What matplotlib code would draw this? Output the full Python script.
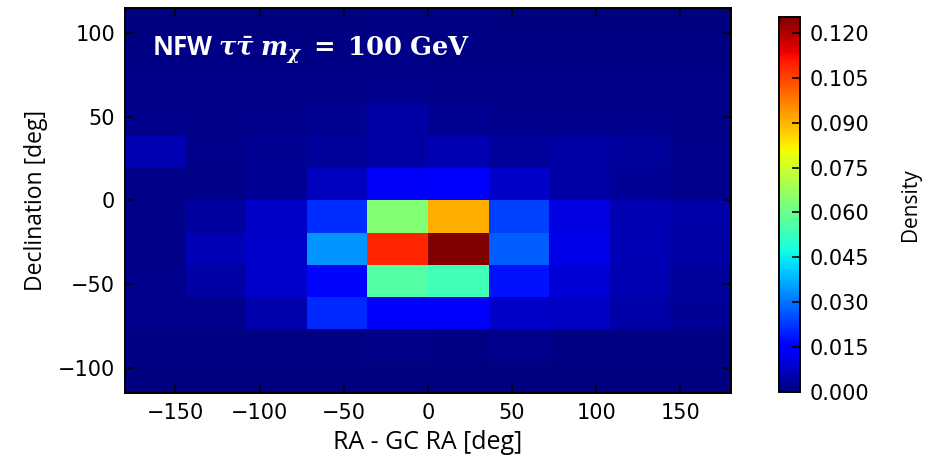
"""Sky density map of the NFW tau-tau signal around the Galactic Centre."""
import matplotlib

matplotlib.use("Agg")
import matplotlib.pyplot as plt
import numpy as np

# Bin edges of the 2D histogram (RA offset and declination, degrees).
RA_EDGES = np.linspace(-180, 180, 11)
DEC_EDGES = np.linspace(-115, 115, 13)

# Density per bin, one row per declination band, listed from the top band down.
DENSITY_ROWS = [
    [0.0004, 0.0004, 0.0004, 0.0004, 0.0005, 0.0005, 0.0004, 0.0004, 0.0004, 0.0004],
    [0.0006, 0.0006, 0.0007, 0.0008, 0.0010, 0.0009, 0.0008, 0.0007, 0.0006, 0.0006],
    [0.0010, 0.0010, 0.0011, 0.0012, 0.0015, 0.0013, 0.0012, 0.0011, 0.0010, 0.0010],
    [0.0015, 0.0014, 0.0016, 0.0020, 0.0042, 0.0022, 0.0018, 0.0016, 0.0015, 0.0013],
    [0.0055, 0.0016, 0.0020, 0.0030, 0.0042, 0.0055, 0.0030, 0.0042, 0.0030, 0.0018],
    [0.0010, 0.0012, 0.0028, 0.0069, 0.0135, 0.0140, 0.0083, 0.0042, 0.0025, 0.0018],
    [0.0014, 0.0035, 0.0083, 0.0215, 0.0640, 0.0910, 0.0235, 0.0110, 0.0055, 0.0045],
    [0.0014, 0.0060, 0.0088, 0.0340, 0.1090, 0.1253, 0.0270, 0.0115, 0.0060, 0.0041],
    [0.0018, 0.0041, 0.0088, 0.0165, 0.0565, 0.0538, 0.0180, 0.0096, 0.0055, 0.0033],
    [0.0018, 0.0018, 0.0050, 0.0210, 0.0145, 0.0140, 0.0083, 0.0077, 0.0047, 0.0028],
    [0.0007, 0.0007, 0.0007, 0.0007, 0.0014, 0.0009, 0.0016, 0.0009, 0.0007, 0.0007],
    [0.0004, 0.0004, 0.0004, 0.0004, 0.0004, 0.0004, 0.0004, 0.0004, 0.0004, 0.0004],
]

RA_TICKS = [-150, -100, -50, 0, 50, 100, 150]
DEC_TICKS = [-100, -50, 0, 50, 100]
CBAR_TICKS = [0.0, 0.015, 0.030, 0.045, 0.060, 0.075, 0.090, 0.105, 0.120]

TITLE = r"NFW $\tau\bar{\tau}\;m_{\chi}\;=\;100\;\mathrm{GeV}$"

plt.rcParams["mathtext.fontset"] = "custom"
plt.rcParams["mathtext.rm"] = "DejaVu Serif:bold"
plt.rcParams["mathtext.it"] = "DejaVu Serif:italic:bold"
plt.rcParams["mathtext.bf"] = "DejaVu Serif:bold"


def plot_density():
    density = np.flipud(np.array(DENSITY_ROWS))

    fig = plt.figure(figsize=(9.35, 4.62), dpi=100)
    ax = fig.add_axes([0.1337, 0.1494, 0.648, 0.8333])
    cax = fig.add_axes([0.8332, 0.1515, 0.0225, 0.8117])

    mesh = ax.pcolormesh(
        RA_EDGES, DEC_EDGES, density, cmap="jet", vmin=0.0, vmax=density.max()
    )
    ax.set_xlim(-180, 180)
    ax.set_ylim(-115, 115)

    # Ticks on all four sides, pointing in.
    ax.set_xticks(RA_TICKS)
    ax.set_yticks(DEC_TICKS)
    ax.tick_params(
        direction="in", top=True, right=True, length=6, width=1.2,
        labelsize=15, pad=7,
    )
    for spine in ax.spines.values():
        spine.set_linewidth(1.4)

    ax.set_xlabel("RA - GC RA [deg]", fontfamily="Open Sans", fontsize=18, labelpad=5)
    ax.set_ylabel("Declination [deg]", fontfamily="Open Sans", fontsize=16.5, labelpad=7)

    ax.text(
        0.045, 0.873, TITLE, transform=ax.transAxes, color="white",
        fontfamily="Open Sans", fontweight="bold", fontsize=18.5,
    )

    # Colour bar.
    cbar = fig.colorbar(mesh, cax=cax, ticks=CBAR_TICKS, format="%.3f")
    cbar.ax.tick_params(direction="in", length=6, width=1.2, labelsize=15, pad=7)
    cbar.outline.set_linewidth(1.4)
    cbar.set_label("Density", fontfamily="Open Sans", fontsize=15, labelpad=22)

    fig.savefig("out.png", dpi=100)


if __name__ == "__main__":
    plot_density()
